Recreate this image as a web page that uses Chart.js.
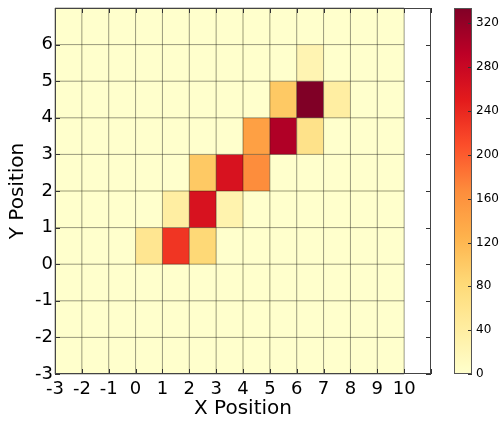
<!DOCTYPE html>
<html><head><meta charset="utf-8">
<script src="https://cdn.jsdelivr.net/npm/chart.js@4/dist/chart.umd.min.js"></script>
<style>
html,body{margin:0;padding:0;background:#fff;}
#wrap{position:relative;width:500px;height:426px;}
canvas{position:absolute;left:0;top:0;}
</style></head><body>
<div id="wrap"><canvas id="main" width="500" height="426"></canvas><canvas id="cbar" width="500" height="426"></canvas></div>
<script>
// Bin left/bottom edges
const xBins = [-3,-2,-1,0,1,2,3,4,5,6,7,8,9];
const yBins = [-3,-2,-1,0,1,2,3,4,5,6];
// counts per row, from y=-3 (bottom) to y=6 (top); columns follow xBins
const countsYm3 = [0,0,0,0,0,0,0,0,0,0,0,0,0];
const countsYm2 = [0,0,0,0,0,0,0,0,0,0,0,0,0];
const countsYm1 = [0,0,0,0,0,0,0,0,0,0,0,0,0];
const countsY0  = [0,0,0,57,229,83,0,0,0,0,0,0,0];
const countsY1  = [0,0,0,0,40,264,28,0,0,0,0,0,0];
const countsY2  = [0,0,0,0,0,101,264,167,0,0,0,0,0];
const countsY3  = [0,0,0,0,0,0,0,146,301,64,0,0,0];
const countsY4  = [0,0,0,0,0,0,0,0,101,334,40,0,0];
const countsY5  = [0,0,0,0,0,0,0,0,0,25,0,0,0];
const countsY6  = [0,0,0,0,0,0,0,0,0,0,0,0,0];
const countRows = [countsYm3,countsYm2,countsYm1,countsY0,countsY1,countsY2,countsY3,countsY4,countsY5,countsY6];
const xTicks = [-3,-2,-1,0,1,2,3,4,5,6,7,8,9,10];
const yTicks = [-3,-2,-1,0,1,2,3,4,5,6];
const cbarTicks = [0,40,80,120,160,200,240,280,320];

const YlOrRd = ['#ffffcc','#ffeda0','#fed976','#feb24c','#fd8d3c','#fc4e2a','#e31a1c','#bd0026','#800026'];
const vmax = Math.max(...countRows.flat());
function hex2rgb(h){return [parseInt(h.slice(1,3),16),parseInt(h.slice(3,5),16),parseInt(h.slice(5,7),16)];}
const stopsRGB = YlOrRd.map(hex2rgb);
function cmap(t){
  t = Math.max(0, Math.min(1, t));
  const p = t*(stopsRGB.length-1);
  const i = Math.min(Math.floor(p), stopsRGB.length-2);
  const f = p - i;
  const a = stopsRGB[i], b = stopsRGB[i+1];
  return 'rgb('+[0,1,2].map(k=>Math.round(a[k]+(b[k]-a[k])*f)).join(',')+')';
}

const cells = [];
yBins.forEach((y0,r)=>xBins.forEach((x0,c)=>cells.push({x:x0+0.5,y:y0+0.5,x0:x0,y0:y0,v:countRows[r][c]})));

const FONT = 'DejaVu Sans';

const heatPlugin = {
  id:'heat',
  beforeDatasetsDraw(chart){
    const {ctx, scales:{x,y}} = chart;
    const data = chart.data.datasets[0].data;
    ctx.save();
    data.forEach(p=>{
      const xa=x.getPixelForValue(p.x0), xb=x.getPixelForValue(p.x0+1);
      const ya=y.getPixelForValue(p.y0), yb=y.getPixelForValue(p.y0+1);
      ctx.fillStyle = cmap(p.v/vmax);
      ctx.fillRect(xa, yb, xb-xa, ya-yb);
    });
    // cell edges, each drawn once
    const xs = xBins.concat([xBins[xBins.length-1]+1]);
    const ys = yBins.concat([yBins[yBins.length-1]+1]);
    const xL = x.getPixelForValue(xs[0]), xR = x.getPixelForValue(xs[xs.length-1]);
    const yB = y.getPixelForValue(ys[0]), yT = y.getPixelForValue(ys[ys.length-1]);
    ctx.strokeStyle = 'rgba(30,30,10,0.45)';
    ctx.lineWidth = 1;
    ctx.beginPath();
    xs.forEach(v=>{const px=x.getPixelForValue(v); ctx.moveTo(px,yB); ctx.lineTo(px,yT);});
    ys.forEach(v=>{const py=y.getPixelForValue(v); ctx.moveTo(xL,py); ctx.lineTo(xR,py);});
    ctx.stroke();
    ctx.restore();
  },
  afterDraw(chart){
    const {ctx, chartArea:a, scales:{x,y}} = chart;
    ctx.save();
    ctx.strokeStyle = '#333';
    ctx.lineWidth = 1;
    ctx.beginPath();
    for(let v=-3; v<=11; v++){
      const px = Math.round(x.getPixelForValue(v))+0.5;
      ctx.moveTo(px,a.bottom); ctx.lineTo(px,a.bottom-5);
      ctx.moveTo(px,a.top); ctx.lineTo(px,a.top+5);
    }
    for(let v=-3; v<=7; v++){
      const py = Math.round(y.getPixelForValue(v))+0.5;
      ctx.moveTo(a.left,py); ctx.lineTo(a.left+5,py);
      ctx.moveTo(a.right,py); ctx.lineTo(a.right-5,py);
    }
    ctx.stroke();
    ctx.strokeStyle = '#444';
    ctx.strokeRect(a.left+0.5, a.top+0.5, a.right-a.left-1, a.bottom-a.top-1);
    ctx.restore();
  }
};

new Chart(document.getElementById('main'), {
  type:'scatter',
  data:{datasets:[{data:cells, pointRadius:0, pointHoverRadius:0}]},
  options:{
    responsive:false, animation:false,
    events:[],
    layout:{padding:{top:8,right:69,left:0,bottom:0}},
    plugins:{legend:{display:false},tooltip:{enabled:false}},
    scales:{
      x:{type:'linear',position:'bottom',min:-3,max:11,
        afterFit(s){s.height=52;s.paddingLeft=0;s.paddingRight=0;},
        grid:{display:false,drawTicks:false}, border:{display:false},
        ticks:{stepSize:1,autoSkip:false,maxRotation:0,includeBounds:false,padding:5,color:'#000',font:{family:FONT,size:18},
          callback:v=> xTicks.includes(v)? String(v):''},
        title:{display:true,text:'X Position',color:'#000',font:{family:FONT,size:20},padding:{top:0,bottom:5}}
      },
      y:{type:'linear',position:'left',min:-3,max:7,
        afterFit(s){s.width=55;s.paddingTop=0;s.paddingBottom=0;},
        grid:{display:false,drawTicks:false}, border:{display:false},
        ticks:{stepSize:1,autoSkip:false,includeBounds:false,padding:2,color:'#000',font:{family:FONT,size:18},
          callback:v=> yTicks.includes(v)? String(v):''},
        title:{display:true,text:'Y Position',color:'#000',font:{family:FONT,size:20},padding:{top:6,bottom:0}}
      }
    }
  },
  plugins:[heatPlugin]
});

const cbarPlugin = {
  id:'cbar',
  beforeDatasetsDraw(chart){
    const {ctx, chartArea:a, scales:{y}} = chart;
    ctx.save();
    const g = ctx.createLinearGradient(0, y.getPixelForValue(0), 0, y.getPixelForValue(vmax));
    for(let i=0;i<=64;i++){ g.addColorStop(i/64, cmap(i/64)); }
    ctx.fillStyle = g;
    ctx.fillRect(a.left, a.top, a.right-a.left, a.bottom-a.top);
    ctx.restore();
  },
  afterDraw(chart){
    const {ctx, chartArea:a, scales:{y}} = chart;
    ctx.save();
    ctx.strokeStyle='#333'; ctx.lineWidth=1;
    ctx.beginPath();
    cbarTicks.forEach(v=>{
      const py = Math.round(y.getPixelForValue(v))+0.5;
      ctx.moveTo(a.right,py); ctx.lineTo(a.right-4,py);
    });
    ctx.stroke();
    ctx.strokeStyle='#555';
    ctx.strokeRect(a.left+0.5, a.top+0.5, a.right-a.left-1, a.bottom-a.top-1);
    ctx.restore();
  }
};

new Chart(document.getElementById('cbar'), {
  type:'scatter',
  data:{datasets:[{data:[], pointRadius:0}]},
  options:{
    responsive:false, animation:false, events:[],
    layout:{padding:{top:8,left:454,bottom:52,right:0}},
    plugins:{legend:{display:false},tooltip:{enabled:false}},
    scales:{
      x:{display:false,min:0,max:1},
      y:{type:'linear',position:'right',min:0,max:vmax,
        afterFit(s){s.width=28;s.paddingTop=0;s.paddingBottom=0;},
        grid:{display:false,drawTicks:false}, border:{display:false},
        ticks:{stepSize:40,includeBounds:false,padding:4,color:'#000',font:{family:FONT,size:12},
          callback:v=> cbarTicks.includes(v)? String(v):''}
      }
    }
  },
  plugins:[cbarPlugin]
});
</script>
</body></html>
